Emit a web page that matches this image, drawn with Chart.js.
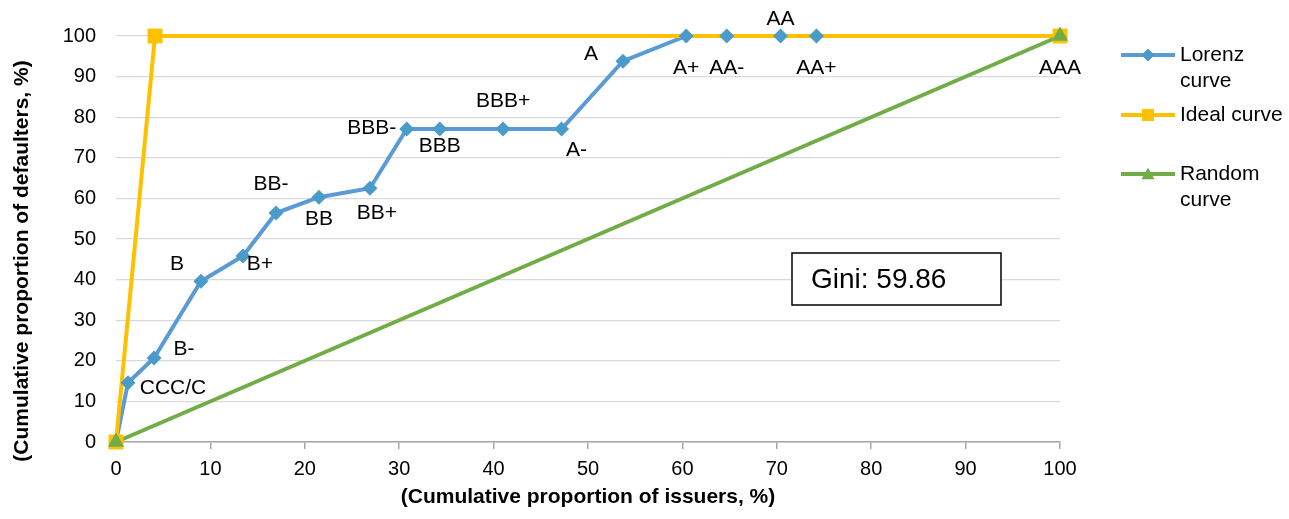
<!DOCTYPE html>
<html>
<head>
<meta charset="utf-8">
<script src="https://cdn.jsdelivr.net/npm/chart.js@4/dist/chart.umd.min.js"></script>
<style>
  html, body { margin: 0; padding: 0; background: #fff; }
  #wrap { width: 1289px; height: 519px; position: relative; }
</style>
</head>
<body>
<div id="wrap"><canvas id="c" width="1289" height="519"></canvas></div>
<script>
// ---- Data ----
const lorenzX = [0, 1.27, 4.03, 9.0, 13.45, 16.95, 21.5, 26.9, 30.8, 34.3, 41.0, 47.2, 53.7, 60.4, 64.7, 70.4, 74.2, 100];
const lorenzY = [0, 14.6, 20.7, 39.6, 45.8, 56.4, 60.3, 62.5, 77.1, 77.1, 77.1, 77.1, 93.8, 100, 100, 100, 100, 100];
const ratingLabels = ['', 'CCC/C', 'B-', 'B', 'B+', 'BB-', 'BB', 'BB+', 'BBB-', 'BBB', 'BBB+', 'A-', 'A', 'A+', 'AA-', 'AA', 'AA+', 'AAA'];
const idealX = [0, 4.13, 100];
const idealY = [0, 100, 100];
const randomX = [0, 100];
const randomY = [0, 100];
const seriesNames = ['Lorenz curve', 'Ideal curve', 'Random curve'];
const giniText = 'Gini: 59.86';
const xTitle = '(Cumulative proportion of issuers, %)';
const yTitle = '(Cumulative proportion of defaulters, %)';

// ---- Styling (label placement offsets in px, not data) ----
const labelOffsets = [[0,0],[45,5],[30,-9],[-24,-17],[17,8],[-5,-29],[0,22],[7,25],[-35,-1],[0,17],[0,-28],[15,21],[-32,-7],[0,32],[0,32],[0,-17],[0,32],[0,32]];
const FONT = '"Liberation Sans", Arial, sans-serif';
const BLUE = '#5B9BD5', BLUE_M = '#4A9BC9', GOLD = '#FFC000', GREEN = '#70AD47';

const pts = (xs, ys) => xs.map((x, i) => ({ x: x, y: ys[i] }));

const labelsPlugin = {
  id: 'ratingLabels',
  afterDatasetsDraw(chart) {
    const ctx = chart.ctx;
    const meta = chart.getDatasetMeta(3);
    ctx.save();
    ctx.font = '21px ' + FONT;
    ctx.fillStyle = '#000';
    ctx.textAlign = 'center';
    ctx.textBaseline = 'middle';
    meta.data.forEach((el, i) => {
      const t = ratingLabels[i];
      if (!t) return;
      const o = labelOffsets[i];
      ctx.fillText(t, el.x + o[0], el.y + o[1]);
    });
    ctx.restore();
  }
};

function drawMarker(ctx, style, x, y, r, color) {
  ctx.fillStyle = color;
  ctx.beginPath();
  if (style === 'diamond') {
    ctx.moveTo(x, y - r); ctx.lineTo(x + r, y); ctx.lineTo(x, y + r); ctx.lineTo(x - r, y);
  } else if (style === 'square') {
    ctx.rect(x - r, y - r, 2 * r, 2 * r);
  } else {
    ctx.moveTo(x, y - r); ctx.lineTo(x + r, y + r * 0.8); ctx.lineTo(x - r, y + r * 0.8);
  }
  ctx.closePath();
  ctx.fill();
}

const decorPlugin = {
  id: 'decor',
  afterDraw(chart) {
    const ctx = chart.ctx;
    const ca = chart.chartArea;
    ctx.save();
    // Axis titles
    ctx.font = 'bold 21px ' + FONT;
    ctx.fillStyle = '#000';
    ctx.textAlign = 'center';
    ctx.textBaseline = 'middle';
    ctx.fillText(xTitle, (ca.left + ca.right) / 2, 497);
    ctx.save();
    ctx.translate(22, 261);
    ctx.rotate(-Math.PI / 2);
    ctx.fillText(yTitle, 0, 0);
    ctx.restore();

    // Gini box
    ctx.fillStyle = '#fff';
    ctx.fillRect(792, 253, 209, 52);
    ctx.strokeStyle = '#000';
    ctx.lineWidth = 1.5;
    ctx.strokeRect(792, 253, 209, 52);
    ctx.fillStyle = '#000';
    ctx.font = '28px ' + FONT;
    ctx.textAlign = 'left';
    ctx.fillText(giniText, 811, 280);

    // Legend
    const items = [
      { color: BLUE, mcolor: BLUE_M, style: 'diamond', r: 6.5, y: 55, lines: ['Lorenz', 'curve'] },
      { color: GOLD, mcolor: GOLD, style: 'square', r: 6, y: 115, lines: ['Ideal curve'] },
      { color: GREEN, mcolor: GREEN, style: 'triangle', r: 6.5, y: 174, lines: ['Random', 'curve'] }
    ];
    ctx.font = '21px ' + FONT;
    items.forEach(it => {
      ctx.strokeStyle = it.color;
      ctx.lineWidth = 4;
      ctx.beginPath();
      ctx.moveTo(1121, it.y);
      ctx.lineTo(1175, it.y);
      ctx.stroke();
      drawMarker(ctx, it.style, 1148, it.y, it.r, it.mcolor);
      ctx.fillStyle = '#000';
      it.lines.forEach((ln, k) => ctx.fillText(ln, 1180, it.y + k * 26));
    });
    ctx.restore();
  }
};

new Chart(document.getElementById('c'), {
  type: 'scatter',
  data: {
    datasets: [
      { label: seriesNames[0], data: pts(lorenzX, lorenzY), showLine: true, borderColor: BLUE, borderWidth: 4, pointRadius: 0, order: 6, clip: false },
      { label: seriesNames[1], data: pts(idealX, idealY), showLine: true, borderColor: GOLD, borderWidth: 4, pointRadius: 0, order: 5, clip: false },
      { label: seriesNames[2], data: pts(randomX, randomY), showLine: true, borderColor: GREEN, borderWidth: 4, pointRadius: 0, order: 4, clip: false },
      { label: seriesNames[0], data: pts(lorenzX, lorenzY), showLine: false, pointStyle: 'rectRot', pointRadius: 7.5, backgroundColor: BLUE_M, borderColor: BLUE_M, borderWidth: 0, order: 3, clip: false },
      { label: seriesNames[1], data: pts(idealX, idealY), showLine: false, pointStyle: 'rect', pointRadius: 10.5, backgroundColor: GOLD, borderColor: GOLD, borderWidth: 0, order: 2, clip: false },
      { label: seriesNames[2], data: pts(randomX, randomY), showLine: false, pointStyle: 'triangle', pointRadius: 9.5, backgroundColor: GREEN, borderColor: GREEN, borderWidth: 0, order: 1, clip: false }
    ]
  },
  options: {
    responsive: false,
    animation: false,
    layout: { padding: { top: 36, right: 229, left: 0, bottom: 0 } },
    plugins: { legend: { display: false }, tooltip: { enabled: false } },
    scales: {
      x: {
        type: 'linear', min: 0, max: 100,
        ticks: { stepSize: 10, color: '#000', font: { size: 20, family: FONT }, padding: 8, maxRotation: 0 },
        grid: { display: true, drawOnChartArea: false, drawTicks: true, tickLength: 7, color: '#A6A6A6', lineWidth: 1.5 },
        border: { display: true, color: '#A6A6A6', width: 1.5 },
        afterFit(s) { s.height = 77; }
      },
      y: {
        type: 'linear', min: 0, max: 100,
        ticks: { stepSize: 10, color: '#000', font: { size: 20, family: FONT }, padding: 20 },
        grid: { color: '#D9D9D9', lineWidth: 1.2, drawTicks: false },
        border: { display: false },
        afterFit(s) { s.width = 116; }
      }
    }
  },
  plugins: [labelsPlugin, decorPlugin]
});
</script>
</body>
</html>
